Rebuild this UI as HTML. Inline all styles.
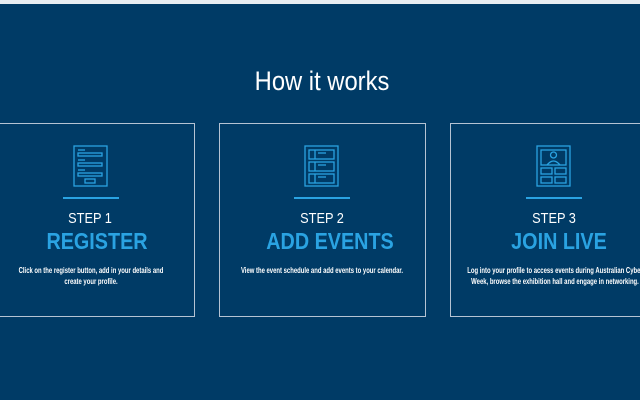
<!DOCTYPE html>
<html><head><style>
body{margin:0;width:640px;height:400px;overflow:hidden;background:#003b66;position:relative;font-family:"Liberation Sans",sans-serif;}
.top{position:absolute;left:0;top:0;width:640px;height:4px;background:#e8edf2;}
.card{position:absolute;top:123px;height:192px;border:1px solid #b5c3d3;}
.c{position:absolute;text-align:center;white-space:nowrap;}
.h{top:66px;left:322px;font-size:27px;color:#fff;transform:translateX(-50%) scaleX(.88);}
.step{top:210px;font-size:15px;color:#fff;transform:translateX(-50%) scaleX(.85);}
.t{top:228px;font-size:23px;font-weight:bold;color:#2aa3e2;transform:translateX(-50%) scaleX(.86);}
.d{top:265px;font-size:8px;line-height:11px;color:#fff;font-weight:bold;transform:translateX(-50%) scaleX(.74);}
.line{position:absolute;top:197px;height:2px;background:#2aa3e2;width:56px;}
svg{position:absolute;top:145px;}
</style></head><body>
<div class="top"></div>
<div class="c h">How it works</div>
<div class="card" style="left:-2px;width:195px"></div>
<div class="card" style="left:219px;width:205px"></div>
<div class="card" style="left:450px;width:200px"></div>

<svg style="left:73px" width="36" height="42" viewBox="0 0 36 42" fill="none" stroke="#2aa3e2" stroke-width="1.3">
<rect x="1" y="1" width="33" height="40"/><line x1="5" y1="5" x2="12" y2="5"/><rect x="5" y="8" width="24" height="3"/>
<line x1="5" y1="15" x2="12" y2="15"/><rect x="5" y="18" width="24" height="3"/><line x1="5" y1="25" x2="12" y2="25"/><rect x="5" y="28" width="24" height="3"/><rect x="12" y="34" width="10" height="4"/></svg>
<svg style="left:304px" width="36" height="42" viewBox="0 0 36 42" fill="none" stroke="#2aa3e2" stroke-width="1.3">
<rect x="1" y="1" width="33" height="40"/><rect x="5" y="5" width="25" height="9"/><line x1="11" y1="5" x2="11" y2="14"/>
<rect x="5" y="17" width="25" height="9"/><line x1="11" y1="17" x2="11" y2="26"/><rect x="5" y="29" width="25" height="9"/><line x1="11" y1="29" x2="11" y2="38"/>
<line x1="14" y1="8" x2="22" y2="8"/><line x1="14" y1="20" x2="22" y2="20"/><line x1="14" y1="32" x2="22" y2="32"/></svg>
<svg style="left:536px" width="36" height="42" viewBox="0 0 36 42" fill="none" stroke="#2aa3e2" stroke-width="1.3">
<rect x="1" y="1" width="33" height="40"/><rect x="5" y="5" width="25" height="15"/><circle cx="17.5" cy="10" r="3"/><path d="M11 20 q6.5-8 13 0"/>
<rect x="5" y="23" width="11" height="6"/><rect x="19" y="23" width="11" height="6"/><rect x="5" y="32" width="11" height="6"/><rect x="19" y="32" width="11" height="6"/></svg>

<div class="line" style="left:63px"></div>
<div class="line" style="left:294px"></div>
<div class="line" style="left:526px"></div>

<div class="c step" style="left:90px">STEP 1</div>
<div class="c t" style="left:97px">REGISTER</div>
<div class="c d" style="left:91px">Click on the register button, add in your details and<br>create your profile.</div>

<div class="c step" style="left:322px">STEP 2</div>
<div class="c t" style="left:330px">ADD EVENTS</div>
<div class="c d" style="left:322px">View the event schedule and add events to your calendar.</div>

<div class="c step" style="left:554px">STEP 3</div>
<div class="c t" style="left:559px">JOIN LIVE</div>
<div class="c d" style="left:555px">Log into your profile to access events during Australian Cyber<br>Week, browse the exhibition hall and engage in networking.</div>
</body></html>
